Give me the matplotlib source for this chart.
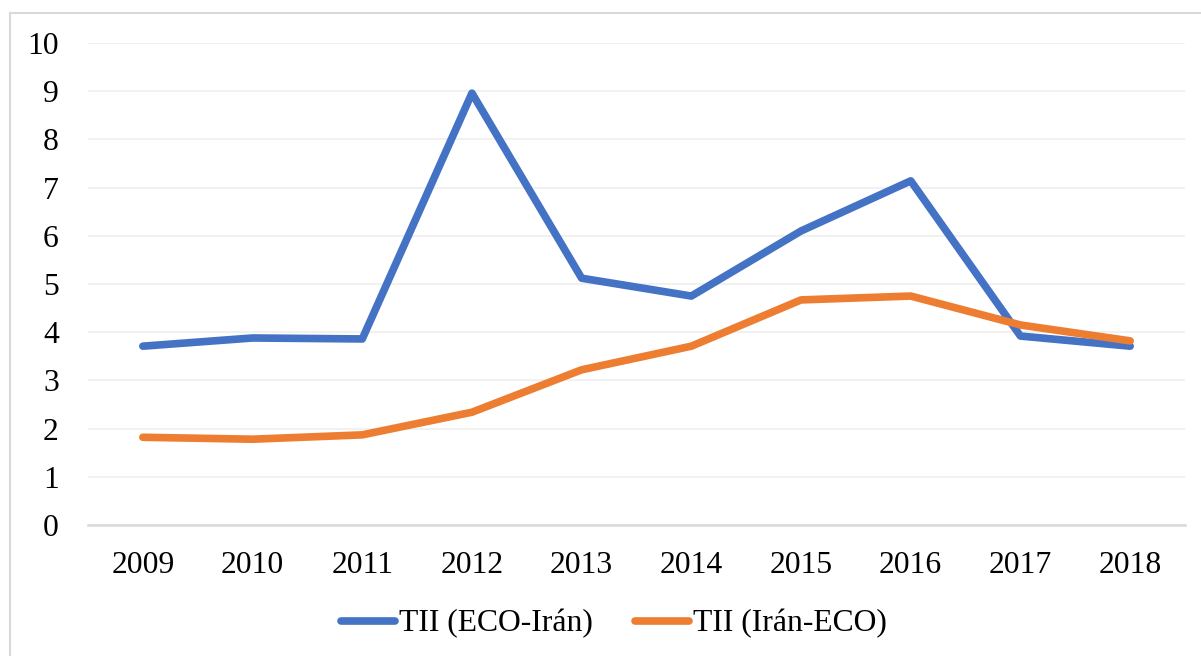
import matplotlib
matplotlib.use("Agg")
import matplotlib.pyplot as plt
from matplotlib.lines import Line2D

years = ["2009", "2010", "2011", "2012", "2013", "2014", "2015", "2016", "2017", "2018"]
eco_iran = [3.71, 3.88, 3.86, 8.96, 5.12, 4.75, 6.10, 7.14, 3.92, 3.71]
iran_eco = [1.82, 1.78, 1.87, 2.34, 3.22, 3.71, 4.67, 4.75, 4.15, 3.82]
series_names = ["TII (ECO-Irán)", "TII (Irán-ECO)"]
yticks = list(range(0, 11))

plt.rcParams['font.family'] = ['Liberation Serif', 'DejaVu Serif']

W, H = 1201, 656
fig = plt.figure(figsize=(W / 100, H / 100), dpi=100)
ax = fig.add_axes([88 / W, 1 - 525 / H, (1185 - 88) / W, (525 - 43) / H])

x = list(range(len(years)))
l1, = ax.plot(x, eco_iran, color='#4472C4', lw=5.5, solid_capstyle='round', solid_joinstyle='round')
l2, = ax.plot(x, iran_eco, color='#ED7D31', lw=5.5, solid_capstyle='round', solid_joinstyle='round')

ax.set_xlim(-0.5, len(years) - 0.5)
ax.set_ylim(0, 10)
ax.set_yticks(yticks)
ax.set_yticklabels([str(t) for t in yticks])
ax.set_xticks(x)
ax.set_xticklabels(years)
ax.grid(axis='y', color='#EFEFEF', lw=1.2)
ax.set_axisbelow(True)
for s in ['top', 'right', 'left']:
    ax.spines[s].set_visible(False)
ax.spines['bottom'].set_color('#D9D9D9')
ax.spines['bottom'].set_linewidth(1.8)
ax.tick_params(axis='both', length=0, labelsize=22.8, colors='#000000')
ax.tick_params(axis='y', pad=21)
ax.tick_params(axis='x', pad=19)

fig.legend([l1, l2], series_names, loc='center', bbox_to_anchor=(614 / W, 1 - 624 / H),
           ncol=2, frameon=False, fontsize=22.8, handlelength=1.7, handletextpad=0.12,
           columnspacing=1.35)

# outer chart frame (top and left edges visible)
fig.add_artist(Line2D([10 / W, 1.0], [1 - 13 / H, 1 - 13 / H], transform=fig.transFigure, color='#D9D9D9', lw=1.5))
fig.add_artist(Line2D([10 / W, 10 / W], [0, 1 - 13 / H], transform=fig.transFigure, color='#D9D9D9', lw=1.5))

fig.savefig("out.png", dpi=100)
